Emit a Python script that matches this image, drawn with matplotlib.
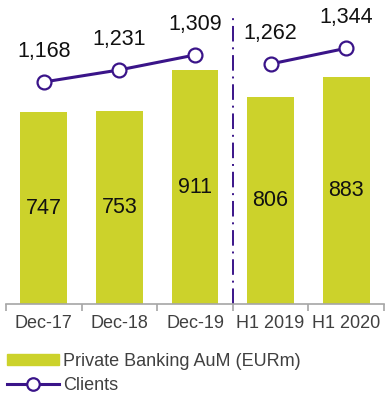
import matplotlib.pyplot as plt
from matplotlib.patches import Patch
from matplotlib.lines import Line2D

categories = ['Dec-17', 'Dec-18', 'Dec-19', 'H1 2019', 'H1 2020']
aum = [747, 753, 911, 806, 883]
clients = [1168, 1231, 1309, 1262, 1344]

BAR = '#CCD22B'
PURPLE = '#3A1489'
plt.rcParams['font.family'] = ['Liberation Sans', 'DejaVu Sans']

fig = plt.figure(figsize=(3.85, 3.95), dpi=100)
ax = fig.add_axes([6 / 385, 91 / 395, 378 / 385, 304 / 395])
ax2 = ax.twinx()

x = list(range(len(categories)))
ax.bar(x, aum, width=0.62, color=BAR, zorder=2)
for xi, v in zip(x, aum):
    ax.text(xi, v / 2, str(v), ha='center', va='center', fontsize=15.5, color='#111111')

# annual figures and half-year figures are separate line segments
ax2.plot(x[:3], clients[:3], color=PURPLE, lw=2.2, marker='o', ms=10,
         mfc='white', mec=PURPLE, mew=1.6, zorder=3)
ax2.plot(x[3:], clients[3:], color=PURPLE, lw=2.2, marker='o', ms=10,
         mfc='white', mec=PURPLE, mew=1.6, zorder=3)
for xi, v in zip(x, clients):
    ax2.annotate(f'{v:,}', (xi, v), xytext=(0, 22), textcoords='offset points',
                 ha='center', va='center', fontsize=15.5, color='#111111')

ax.axvline(2.5, ymin=0, ymax=0.95, color=PURPLE, lw=1.4, ls=(0, (8, 3, 1, 3)))

ax.set_xlim(-0.5, 4.5)
ax.set_ylim(0, 1185)
ax2.set_ylim(9, 1596)

for a in (ax, ax2):
    for s in ('top', 'left', 'right'):
        a.spines[s].set_visible(False)
    a.set_yticks([])
ax2.spines['bottom'].set_visible(False)
ax.spines['bottom'].set_color('#A6A6A6')
ax.spines['bottom'].set_linewidth(1.2)

ax.set_xticks(x)
ax.set_xticklabels(categories, fontsize=13, color='#404040')
ax.tick_params(axis='x', which='major', length=0, pad=8)
ax.set_xticks([i - 0.5 for i in range(len(categories) + 1)], minor=True)
ax.tick_params(axis='x', which='minor', length=5, width=1.2, color='#A6A6A6')

handles = [Patch(color=BAR),
           Line2D([], [], color=PURPLE, lw=2.2, marker='o', ms=9,
                  mfc='white', mec=PURPLE, mew=1.6)]
fig.legend(handles, ['Private Banking AuM (EURm)', 'Clients'],
           loc='upper left', bbox_to_anchor=(7 / 385, 1 - 353 / 395),
           frameon=False, fontsize=13, labelcolor='#404040',
           handlelength=2.9, handleheight=0.55, handletextpad=0.2,
           labelspacing=0.4, borderpad=0, borderaxespad=0)

fig.savefig('out.png', dpi=100)
